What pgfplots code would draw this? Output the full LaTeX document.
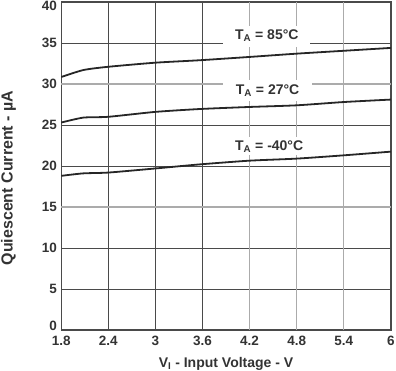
\documentclass[border=0pt]{standalone}
\usepackage{pgfplots}
\pgfplotsset{compat=1.18}
\usepackage{fontspec}
\setmainfont{Liberation Sans}
\definecolor{txt}{HTML}{333333}
\definecolor{curve}{HTML}{262626}
\definecolor{gdark}{HTML}{4A4A4A}
\definecolor{glight}{HTML}{ABABAB}
\begin{document}
\begin{tikzpicture}[x=1pt,y=1pt]
\useasboundingbox (0,0) rectangle (396,371);
\begin{axis}[
  at={(61.3pt,41pt)}, anchor=south west,
  scale only axis, width=329.5pt, height=328pt,
  xmin=1.8, xmax=6, ymin=0, ymax=40,
  xtick={1.8,2.4,3,3.6,6},
  ytick={0,5,10,20,25,35,40},
  yticklabels={\raisebox{-1pt}[0pt][0pt]{0},5,10,20,25,35,\raisebox{-9pt}[0pt][0pt]{40}},
  extra x ticks={4.2,4.8,5.4},
  extra y ticks={15,30},
  extra tick style={major grid style={glight, line width=1.1pt}},
  grid=major,
  major grid style={gdark, line width=0.9pt},
  major tick length=0pt,
  axis line style={gdark, line width=1.6pt},
  /pgf/number format/assume math mode=true,
  /pgf/number format/fixed,
  /pgf/number format/precision=1,
  tick label style={font=\fontsize{13.5}{13.5}\selectfont\bfseries, text=txt},
  xticklabel style={yshift=-3pt},
  yticklabel style={xshift=-1pt},
  xlabel={V\textsubscript{I} - Input Voltage - V},
  xlabel style={font=\fontsize{14}{14}\selectfont\bfseries, text=txt, at={(axis description cs:0.5,0)}, anchor=north, yshift=-24pt},
  clip=false,
]
\addplot[curve, line width=1.8pt, smooth, tension=0.4] coordinates {
(1.8,30.85) (2.08,31.7) (2.4,32.1) (3.0,32.6) (3.57,32.9) (4.2,33.3) (4.8,33.7) (5.4,34.05) (6,34.4)};
\addplot[curve, line width=1.8pt, smooth, tension=0.4] coordinates {
(1.8,25.3) (2.08,25.9) (2.4,26.0) (3.0,26.6) (3.57,26.95) (4.2,27.2) (4.8,27.4) (5.4,27.8) (6,28.1)};
\addplot[curve, line width=1.8pt, smooth, tension=0.4] coordinates {
(1.8,18.8) (2.08,19.1) (2.4,19.2) (3.0,19.7) (3.57,20.2) (4.2,20.65) (4.8,20.9) (5.4,21.3) (6,21.75)};
\node[fill=white, minimum width=87pt, minimum height=21pt, inner sep=0pt, font=\fontsize{14}{14}\selectfont\bfseries, text=txt] at (axis cs:4.42,35.85) {T\textsubscript{A} = 85°C};
\node[fill=white, minimum width=89pt, minimum height=21pt, inner sep=0pt, font=\fontsize{14}{14}\selectfont\bfseries, text=txt] at (axis cs:4.43,29.15) {T\textsubscript{A} = 27°C};
\node[fill=white, minimum width=80pt, minimum height=18pt, inner sep=0pt, font=\fontsize{14}{14}\selectfont\bfseries, text=txt] at (axis cs:4.45,22.4) {T\textsubscript{A} = -40°C};
\end{axis}
\node[rotate=90, font=\fontsize{16}{16}\selectfont\bfseries, text=txt, inner sep=0pt] at (8.5,193) {Quiescent Current - µA};
\end{tikzpicture}
\end{document}
